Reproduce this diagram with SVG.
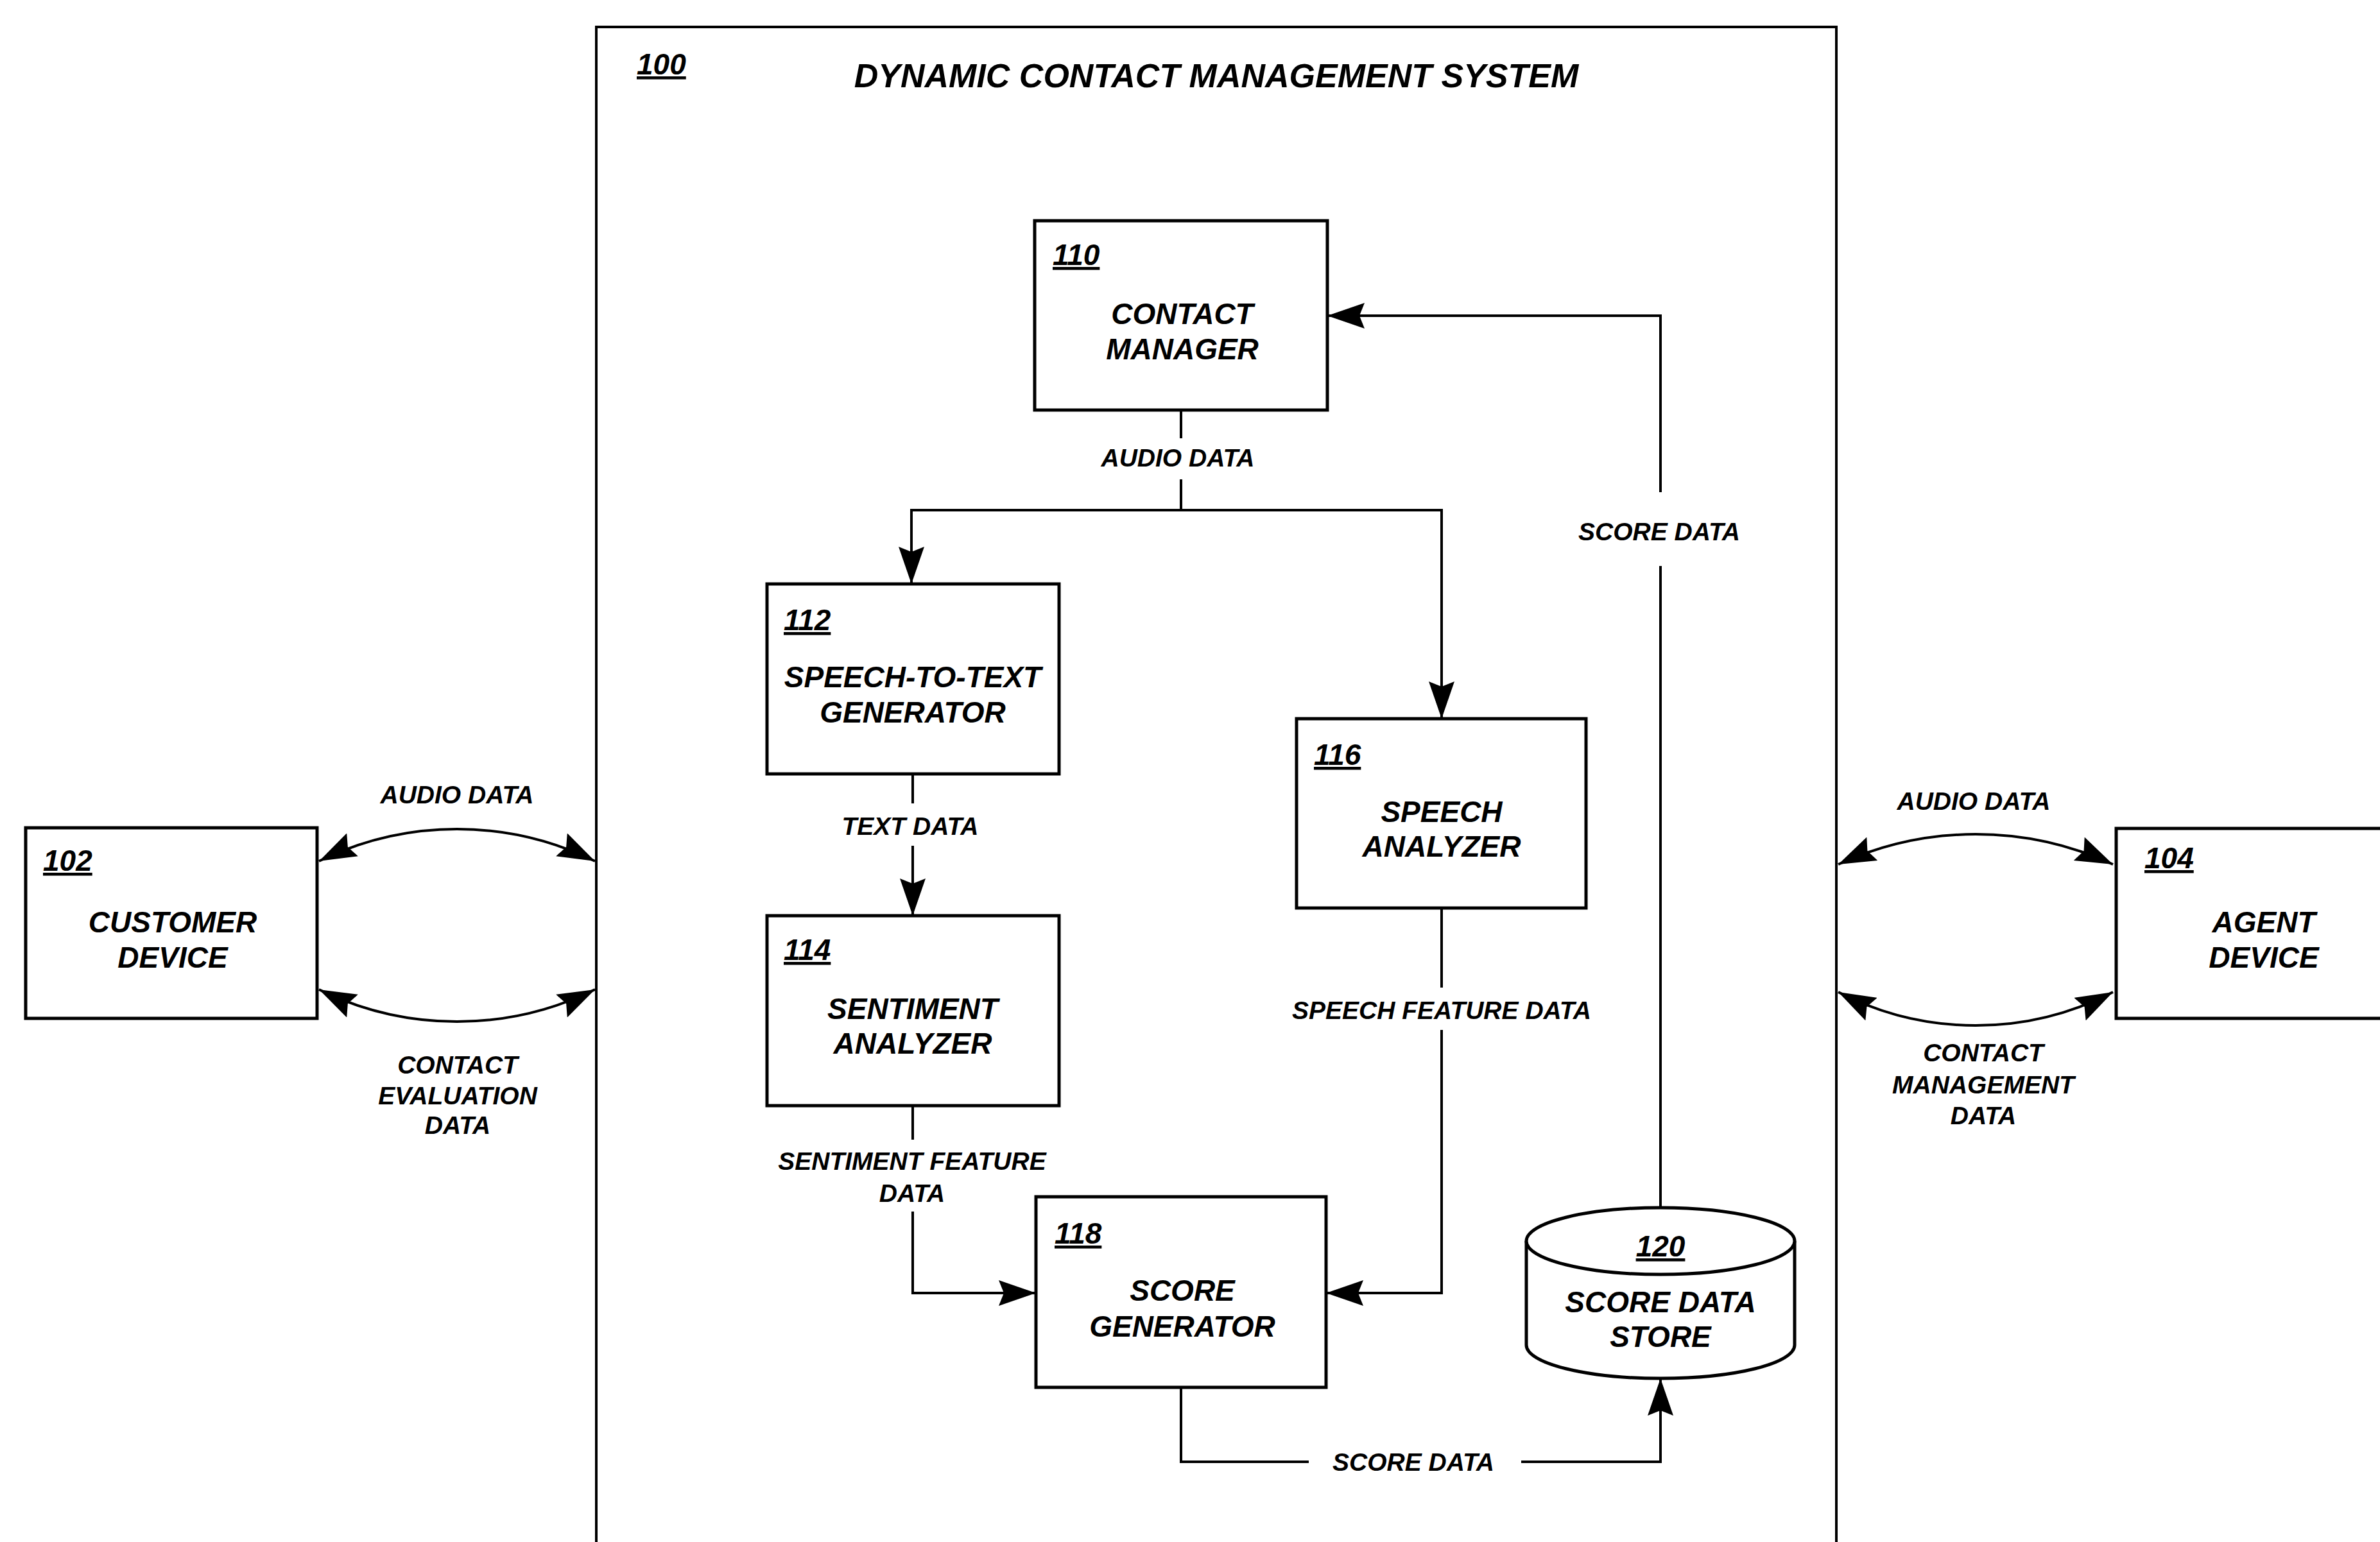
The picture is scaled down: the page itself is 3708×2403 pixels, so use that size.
<svg xmlns="http://www.w3.org/2000/svg" width="3708" height="2403" viewBox="0 0 3708 2403">
<style>
  .box { fill: #fff; stroke: #000; stroke-width: 5; }
  .outer { fill: none; stroke: #000; stroke-width: 4; }
  .t { font-family: "Liberation Sans", Arial, sans-serif; font-weight: bold; font-style: italic; fill: #000; }
  .nt { font-size: 46px; text-anchor: middle; }
  .num { font-size: 46px; text-decoration: underline; }
  .cl { font-size: 39px; text-anchor: middle; }
  .title { font-size: 52px; text-anchor: middle; }
  .ln { fill: none; stroke: #000; stroke-width: 4; }
</style>
<defs>
  <marker id="ah" viewBox="0 0 58 40" refX="58" refY="20" markerWidth="58" markerHeight="40" markerUnits="userSpaceOnUse" orient="auto-start-reverse">
    <path d="M0,0 L58,20 L0,40 L8,20 Z" fill="#000"/>
  </marker>
</defs>
<rect width="3708" height="2403" fill="#fff"/>

<g id="node-100">
  <rect class="outer" x="929" y="42" width="1932" height="2420"/>
  <text class="t num" x="992" y="116">100</text>
  <text class="t title" x="1895" y="136">DYNAMIC CONTACT MANAGEMENT SYSTEM</text>
</g>

<g id="node-102">
  <rect class="box" x="40" y="1290" width="454" height="297"/>
  <text class="t num" x="67" y="1357">102</text>
  <text class="t nt" x="269" y="1453">CUSTOMER</text>
  <text class="t nt" x="269" y="1508">DEVICE</text>
</g>

<g id="node-104">
  <rect class="box" x="3297" y="1291" width="470" height="296"/>
  <text class="t num" x="3341" y="1353">104</text>
  <text class="t nt" x="3527" y="1453">AGENT</text>
  <text class="t nt" x="3527" y="1508">DEVICE</text>
</g>

<g id="node-110">
  <rect class="box" x="1612" y="344" width="456" height="295"/>
  <text class="t num" x="1640" y="413">110</text>
  <text class="t nt" x="1842" y="505">CONTACT</text>
  <text class="t nt" x="1842" y="560">MANAGER</text>
</g>

<g id="node-112">
  <rect class="box" x="1195" y="910" width="455" height="296"/>
  <text class="t num" x="1221" y="982">112</text>
  <text class="t nt" x="1422" y="1071">SPEECH-TO-TEXT</text>
  <text class="t nt" x="1422" y="1126">GENERATOR</text>
</g>

<g id="node-114">
  <rect class="box" x="1195" y="1427" width="455" height="296"/>
  <text class="t num" x="1221" y="1496">114</text>
  <text class="t nt" x="1422" y="1588">SENTIMENT</text>
  <text class="t nt" x="1422" y="1642">ANALYZER</text>
</g>

<g id="node-116">
  <rect class="box" x="2020" y="1120" width="451" height="295"/>
  <text class="t num" x="2047" y="1192">116</text>
  <text class="t nt" x="2246" y="1281">SPEECH</text>
  <text class="t nt" x="2246" y="1335">ANALYZER</text>
</g>

<g id="node-118">
  <rect class="box" x="1614" y="1865" width="452" height="297"/>
  <text class="t num" x="1643" y="1938">118</text>
  <text class="t nt" x="1842" y="2027">SCORE</text>
  <text class="t nt" x="1842" y="2083">GENERATOR</text>
</g>

<g id="node-120">
  <path class="box" d="M2378,1934 L2378,2096 A209,52 0 0 0 2796,2096 L2796,1934"/>
  <ellipse class="box" cx="2587" cy="1934" rx="209" ry="52"/>
  <text class="t num" x="2587" y="1958" text-anchor="middle">120</text>
  <text class="t nt" x="2587" y="2045">SCORE DATA</text>
  <text class="t nt" x="2587" y="2099">STORE</text>
</g>

<g id="connectors">
  <path class="ln" d="M1840,639 V683"/>
  <path class="ln" d="M1840,747 V795 H1420 V910" marker-end="url(#ah)"/>
  <path class="ln" d="M1840,795 H2246 V1120" marker-end="url(#ah)"/>
  <text class="t cl" x="1835" y="727">AUDIO DATA</text>

  <path class="ln" d="M1422,1206 V1252"/>
  <path class="ln" d="M1422,1318 V1427" marker-end="url(#ah)"/>
  <text class="t cl" x="1418" y="1301">TEXT DATA</text>

  <path class="ln" d="M1422,1723 V1776"/>
  <path class="ln" d="M1422,1888 V2015 H1614" marker-end="url(#ah)"/>
  <text class="t cl" x="1421" y="1823">SENTIMENT FEATURE</text>
  <text class="t cl" x="1421" y="1873">DATA</text>

  <path class="ln" d="M2246,1415 V1539"/>
  <path class="ln" d="M2246,1605 V2015 H2066" marker-end="url(#ah)"/>
  <text class="t cl" x="2246" y="1588">SPEECH FEATURE DATA</text>

  <path class="ln" d="M1840,2162 V2278 H2039"/>
  <path class="ln" d="M2370,2278 H2587 V2148" marker-end="url(#ah)"/>
  <text class="t cl" x="2202" y="2292">SCORE DATA</text>

  <path class="ln" d="M2587,1882 V882"/>
  <path class="ln" d="M2587,767 V492 H2068" marker-end="url(#ah)"/>
  <text class="t cl" x="2585" y="842">SCORE DATA</text>

  <path class="ln" d="M497,1342 A487,487 0 0 1 927,1342" marker-start="url(#ah)" marker-end="url(#ah)"/>
  <text class="t cl" x="712" y="1252">AUDIO DATA</text>
  <path class="ln" d="M497,1542 A487,487 0 0 0 927,1542" marker-start="url(#ah)" marker-end="url(#ah)"/>
  <text class="t cl" x="713" y="1673">CONTACT</text>
  <text class="t cl" x="713" y="1721">EVALUATION</text>
  <text class="t cl" x="713" y="1767">DATA</text>

  <path class="ln" d="M2864,1347 A511,511 0 0 1 3292,1347" marker-start="url(#ah)" marker-end="url(#ah)"/>
  <text class="t cl" x="3075" y="1262">AUDIO DATA</text>
  <path class="ln" d="M2864,1546 A466,466 0 0 0 3292,1546" marker-start="url(#ah)" marker-end="url(#ah)"/>
  <text class="t cl" x="3090" y="1654">CONTACT</text>
  <text class="t cl" x="3090" y="1704">MANAGEMENT</text>
  <text class="t cl" x="3090" y="1752">DATA</text>
</g>
</svg>
